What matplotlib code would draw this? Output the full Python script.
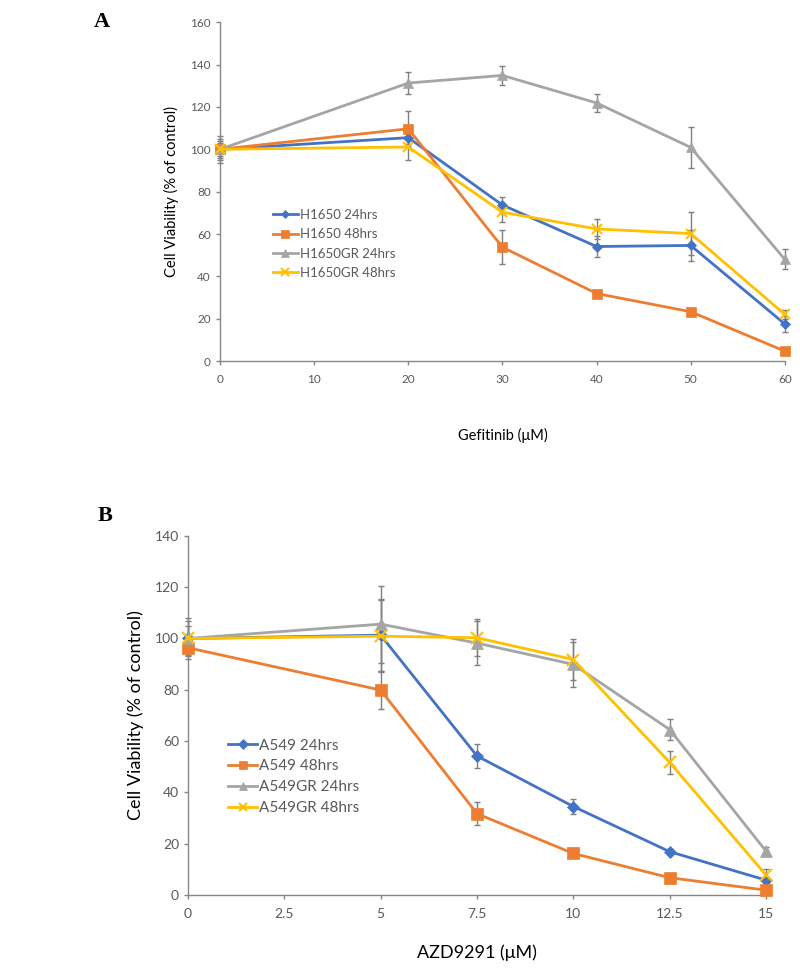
import numpy as np, matplotlib
matplotlib.use("Agg"); import matplotlib.pyplot as plt

# panel A: H1650, gefitinib
xa = [0, 20, 30, 40, 50, 60]
a_names = ["H1650 24hrs", "H1650 48hrs", "H1650GR 24hrs", "H1650GR 48hrs"]
a_vals = [[100, 105.5, 73.7, 54.1, 54.6, 17.5],
          [100, 109.7, 53.8, 31.9, 23.3, 4.7],
          [100, 131.3, 134.9, 121.9, 100.9, 48.0],
          [100, 101.1, 70.3, 62.4, 60.2, 22.0]]
a_err = [[5, 3, 3.8, 5, 7.4, 4],
         [3, 8.3, 7.9, 1, 1, 1],
         [6.3, 5, 4.4, 4.2, 9.5, 4.7],
         [4, 6, 4.5, 4.7, 10, 2]]

# panel B: A549, AZD9291
xb = [0, 5, 7.5, 10, 12.5, 15]
b_names = ["A549 24hrs", "A549 48hrs", "A549GR 24hrs", "A549GR 48hrs"]
b_vals = [[100, 101.3, 54.2, 34.5, 16.9, 5.8],
          [96.4, 79.9, 31.7, 16.2, 6.75, 1.9],
          [100, 105.6, 98.2, 89.9, 64.5, 17.1],
          [100, 100.9, 100.3, 91.8, 51.7, 7.8]]
b_err = [[5, 14, 4.8, 3, 1, 1],
         [3, 7.3, 4.6, 1, 1, 1],
         [8, 15, 8.7, 8.8, 4, 1.5],
         [7, 14, 7.2, 8, 4.5, 2.2]]

COLS = ["#4472C4", "#ED7D31", "#A5A5A5", "#FFC000"]
MARK = [("D", 6), ("s", 8), ("^", 8), ("x", 8)]
TXT = "#595959"; SPN = "#868686"; ERR = "#7f7f7f"
plt.rcParams["font.family"] = ["Lato", "DejaVu Sans"]

fig = plt.figure(figsize=(8, 9.68), dpi=100)

def panel(rect, x, vals, errs, names, xlim, ylim, ystep, xt, xlab, tfs, lfs, xpad, legpos, legfs, lsp, ms_scale):
    ax = fig.add_axes(rect)
    for i in range(4):
        ax.errorbar(x, vals[i], yerr=errs[i], fmt="none", ecolor=ERR, elinewidth=1, capsize=2, capthick=1,
                    zorder=2, clip_on=False)
    for i in range(4):
        m, s = MARK[i]
        ax.plot(x, vals[i], color=COLS[i], lw=2, marker=m, ms=s * ms_scale,
                mew=1.5 if m == "x" else 0.5, mec=COLS[i], label=names[i], zorder=3, clip_on=False)
    ax.set_xlim(*xlim); ax.set_ylim(*ylim)
    ax.set_xticks(xt); ax.set_xticklabels([f"{v:g}" for v in xt])
    ax.set_yticks(np.arange(0, ylim[1] + 1, ystep))
    for s in ["top", "right"]: ax.spines[s].set_visible(False)
    for s in ["left", "bottom"]:
        ax.spines[s].set_color(SPN); ax.spines[s].set_linewidth(1)
    ax.tick_params(colors=SPN, labelcolor=TXT, labelsize=tfs, length=3, width=1)
    ax.tick_params(axis="x", pad=6)
    ax.set_xlabel(xlab, fontsize=lfs, color="black", labelpad=xpad)
    ax.set_ylabel("Cell Viability (% of control)", fontsize=lfs, color="black", labelpad=8)
    ax.legend(loc="upper left", bbox_to_anchor=legpos, bbox_transform=fig.transFigure, frameon=False,
              fontsize=legfs, handlelength=1.9, handletextpad=0.15, labelspacing=lsp, borderpad=0,
              borderaxespad=0, labelcolor=TXT, markerscale=0.8)
    return ax

panel([0.275, 0.627, 0.706, 0.350], xa, a_vals, a_err, a_names, (0, 60), (0, 160), 20,
      [0, 10, 20, 30, 40, 50, 60], "Gefitinib (μM)", 8.5, 10.5, 31, (0.341, 0.784), 9.5, 0.55, 0.85)
panel([0.235, 0.0754, 0.7225, 0.371], xb, b_vals, b_err, b_names, (0, 15), (0, 140), 20,
      [0, 2.5, 5, 7.5, 10, 12.5, 15], "AZD9291 (μM)", 10, 13, 18, (0.285, 0.237), 11, 0.45, 1.0)

fig.text(0.117, 0.988, "A", fontsize=16, fontweight="bold", family="Liberation Serif", va="top")
fig.text(0.122, 0.477, "B", fontsize=16, fontweight="bold", family="Liberation Serif", va="top")

plt.savefig("out.png", dpi=100)
